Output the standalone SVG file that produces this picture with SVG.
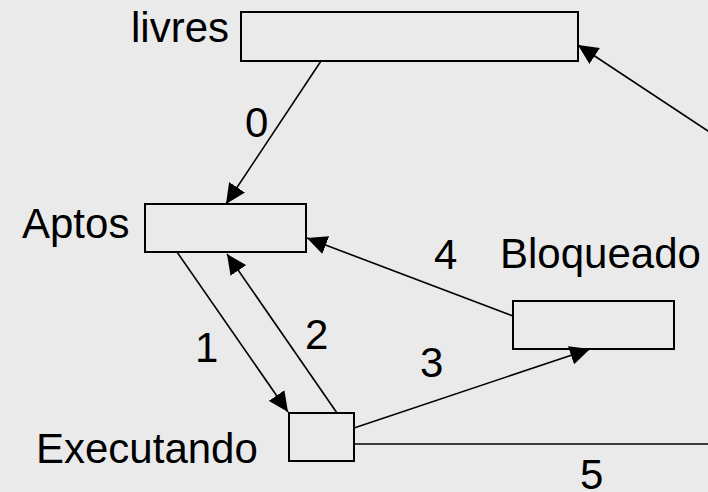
<svg xmlns="http://www.w3.org/2000/svg" width="708" height="492" viewBox="0 0 708 492">
  <style>
    .box { fill: #EAEAEA; stroke: #000; stroke-width: 2; }
    .lbl { font-family: "Liberation Sans", Arial, sans-serif; font-size: 42px; fill: #000; }
    .edge { fill: none; stroke: #000; stroke-width: 1.6; }
  </style>
  <defs>
    <marker id="head" viewBox="0 0 20 19" refX="20" refY="9.5" markerWidth="20" markerHeight="19" markerUnits="userSpaceOnUse" orient="auto">
      <path d="M0,0 L20,9.5 L0,19 Z" fill="#000"/>
    </marker>
  </defs>
  <rect width="708" height="492" fill="#EAEAEA"/>

  <!-- states -->
  <g id="livres">
    <rect class="box" x="241" y="12" width="337" height="49"/>
    <text class="lbl" x="131" y="42">livres</text>
  </g>
  <g id="aptos">
    <rect class="box" x="145" y="204" width="161" height="48"/>
    <text class="lbl" x="22" y="238">Aptos</text>
  </g>
  <g id="bloqueado">
    <rect class="box" x="513" y="301" width="161" height="48"/>
    <text class="lbl" x="500" y="268">Bloqueado</text>
  </g>
  <g id="executando">
    <rect class="box" x="289" y="413" width="65" height="48"/>
    <text class="lbl" x="36" y="463">Executando</text>
  </g>

  <!-- transitions -->
  <g id="connectors">
    <path class="edge" d="M321,61 L226,204" marker-end="url(#head)"/>
    <path class="edge" d="M177,252 L288,412" marker-end="url(#head)"/>
    <path class="edge" d="M337,413 L227,254" marker-end="url(#head)"/>
    <path class="edge" d="M354,428 L590,349" marker-end="url(#head)"/>
    <path class="edge" d="M513,316 L307,238" marker-end="url(#head)"/>
    <path class="edge" d="M354,444 H730 V145.5 L578,45" marker-end="url(#head)"/>
    <text class="lbl" x="245" y="137">0</text>
    <text class="lbl" x="195" y="362">1</text>
    <text class="lbl" x="305" y="349">2</text>
    <text class="lbl" x="420" y="377">3</text>
    <text class="lbl" x="434" y="269">4</text>
    <text class="lbl" x="580" y="489">5</text>
  </g>
</svg>
